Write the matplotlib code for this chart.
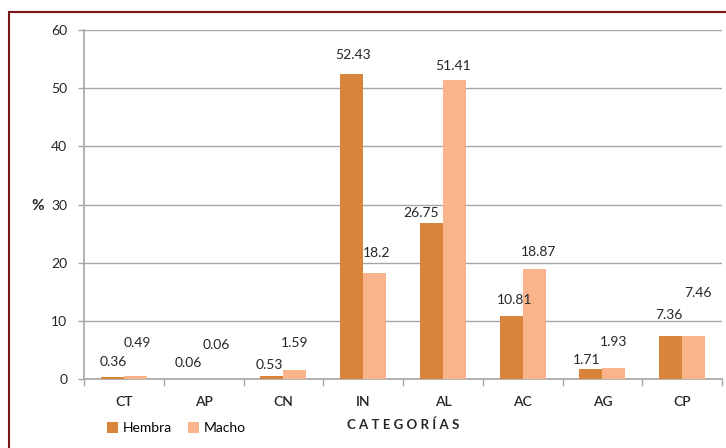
import numpy as np
import matplotlib
matplotlib.use("Agg")
import matplotlib.pyplot as plt
from matplotlib.patches import Rectangle

categories = ["CT", "AP", "CN", "IN", "AL", "AC", "AG", "CP"]
hembra = [0.36, 0.06, 0.53, 52.43, 26.75, 10.81, 1.71, 7.36]
macho = [0.49, 0.06, 1.59, 18.2, 51.41, 18.87, 1.93, 7.46]

# label placement tweaks (pixels above bar top / sideways), as in the original
hembra_lift = [15, 16, 11, 19, 10, 16, 9, 21]
macho_lift = [33, 34, 27, 20, 14, 17, 26, 43]
hembra_dx = [1, -4, -3, 1, -10, 3, -4, -2]
macho_dx = [2, 1, 0, 2, -1, 4, 0, 4]

C_HEMBRA = "#D9843B"
C_MACHO = "#F9B48C"
GRID = "#A6A6A6"
TXT = "#262626"

plt.rcParams['font.family'] = ['Lato', 'DejaVu Sans']

W, H = 726, 448
fig = plt.figure(figsize=(W / 100, H / 100), dpi=100)
ax = fig.add_axes([84 / W, 1 - 379 / H, (722 - 84) / W, (379 - 30) / H])

x = np.arange(len(categories))
w = 0.288
ax.bar(x - w / 2, hembra, w, color=C_HEMBRA, label="Hembra", zorder=3)
ax.bar(x + w / 2, macho, w, color=C_MACHO, label="Macho", zorder=3)

px = 0.72  # points per pixel at 100 dpi
for i in range(len(categories)):
    ax.annotate(f"{hembra[i]:g}", (x[i] - w / 2, hembra[i]),
                xytext=(hembra_dx[i] * px, hembra_lift[i] * px),
                textcoords="offset points", ha="center", va="center",
                fontsize=10, color=TXT)
    ax.annotate(f"{macho[i]:g}", (x[i] + w / 2, macho[i]),
                xytext=(macho_dx[i] * px, macho_lift[i] * px),
                textcoords="offset points", ha="center", va="center",
                fontsize=10, color=TXT)

ax.set_xlim(-0.5, len(categories) - 0.5)
ax.set_ylim(0, 60)
ax.set_yticks(np.arange(0, 61, 10))
ax.yaxis.grid(True, color=GRID, linewidth=1, zorder=0)
ax.set_axisbelow(True)

ax.set_xticks(x)
ax.set_xticklabels(categories, fontsize=10, fontweight="semibold", color=TXT)
ax.set_xticks(np.arange(-0.5, len(categories)), minor=True)
ax.tick_params(axis="x", which="major", length=0, pad=12)
ax.tick_params(axis="x", which="minor", length=5, color=GRID, width=1)
ax.tick_params(axis="y", length=4, color=GRID, width=1, labelsize=10,
               labelcolor=TXT, pad=8)

for side in ["top", "right"]:
    ax.spines[side].set_visible(False)
for side in ["left", "bottom"]:
    ax.spines[side].set_color(GRID)
    ax.spines[side].set_linewidth(1.2)

fig.text(38 / W, 1 - 206 / H, "%", fontsize=11, fontweight="bold",
         ha="center", va="center", color=TXT)
fig.text(403 / W, 1 - 425 / H, " ".join("CATEGORÍAS"), fontsize=9.5,
         fontweight="bold", ha="center", va="center", color=TXT)

fig.legend(loc="center left", bbox_to_anchor=(107 / W, 1 - 428 / H),
           ncol=2, frameon=False, fontsize=10, handlelength=0.8,
           handleheight=0.8, handletextpad=0.3, columnspacing=1.2,
           borderaxespad=0, borderpad=0)

# outer dark red frame, clipped on the right and bottom like the source
fig.patches.append(Rectangle((9 / W, -0.05), 1.0, 1 - 12 / H + 0.05,
                             transform=fig.transFigure, fill=False,
                             edgecolor="#7B1416", linewidth=1.5))

fig.savefig("out.png", dpi=100)
